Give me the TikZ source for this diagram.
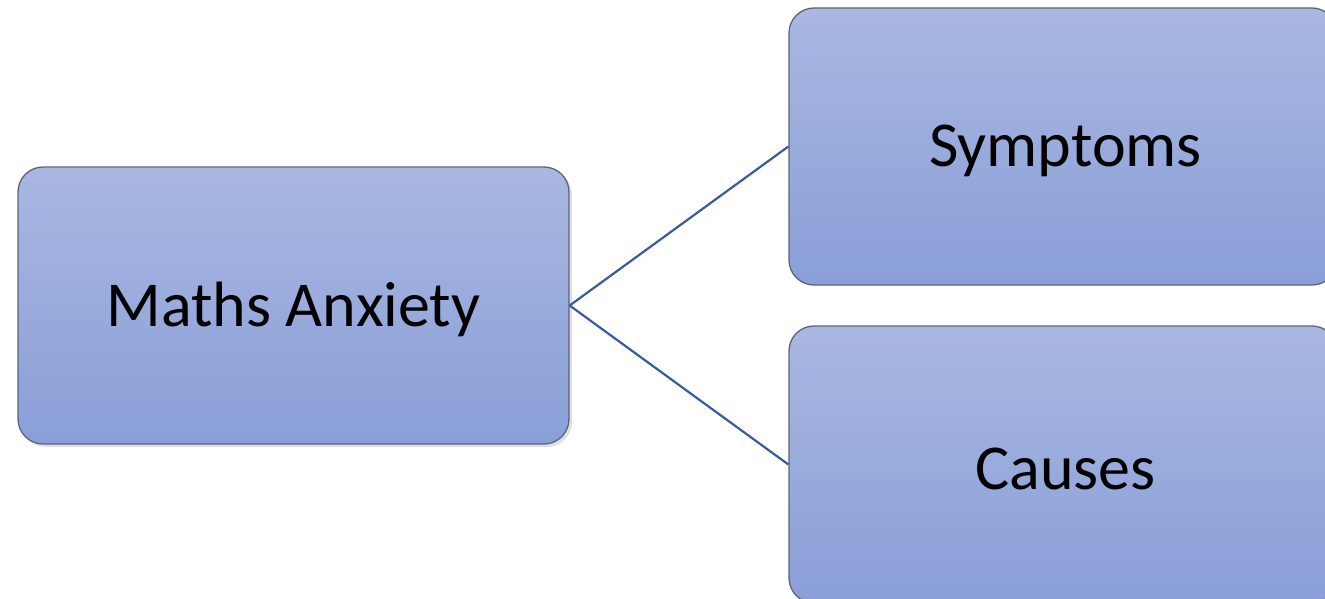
\documentclass[tikz,border=0pt]{standalone}
\usepackage{fontspec}
\setmainfont{Carlito}
\definecolor{boxtop}{HTML}{A9B7E1}
\definecolor{boxbot}{HTML}{8A9FD8}
\definecolor{boxline}{HTML}{5E6475}
\definecolor{linkblue}{HTML}{3B5A9D}
% lower a label a little while keeping its box size
\newcommand{\boxtext}[1]{\raisebox{-4pt}[\height][\depth]{#1}}
\tikzset{
  box/.style={draw=boxline, line width=1.3pt, rounded corners=25pt,
    top color=boxtop, bottom color=boxbot, inner sep=0pt,
    font=\fontsize{64}{70}\selectfont, text=black},
  link/.style={draw=linkblue, line width=2.2pt}
}
\begin{document}
\begin{tikzpicture}[x=1pt,y=-1pt]
\useasboundingbox (0,0) rectangle (1325,599);
% soft shadow under the main box
\fill[black!12, rounded corners=25pt] (21,170) rectangle (572,447);
\node[box, minimum width=551pt, minimum height=277pt] (ma) at (293.5,305.5) {\boxtext{Maths Anxiety}};
\node[box, minimum width=548pt, minimum height=277pt] (sym) at (1063,146.5) {\hspace*{5pt}\boxtext{Symptoms}};
\node[box, minimum width=548pt, minimum height=277pt] (cau) at (1063,464.5) {\hspace*{5pt}\boxtext{Causes}};
\draw[link] (ma.east) -- (sym.west);
\draw[link] (ma.east) -- (cau.west);
\end{tikzpicture}
\end{document}
